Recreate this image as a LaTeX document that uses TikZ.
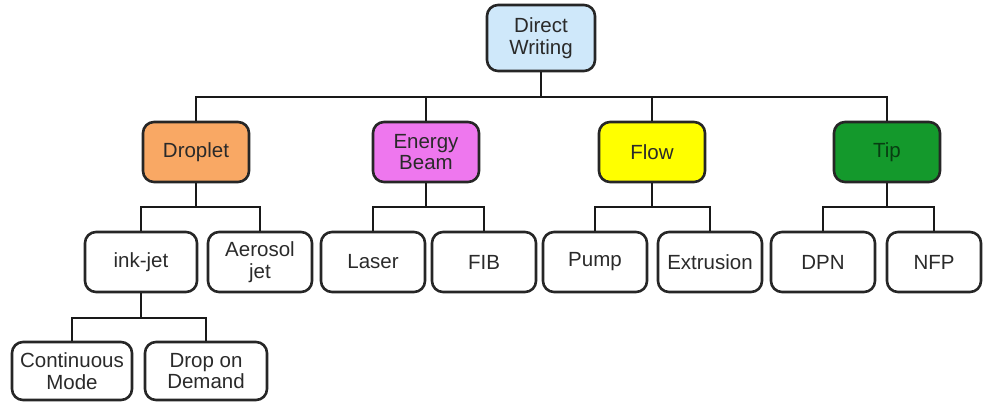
\documentclass[tikz,border=0pt]{standalone}
\usepackage{fontspec}
\setmainfont{Liberation Sans}
\definecolor{dwblue}{HTML}{CFE8FA}
\definecolor{droporange}{HTML}{F9A864}
\definecolor{beammag}{HTML}{EE77EE}
\definecolor{flowyel}{HTML}{FFFF00}
\definecolor{tipgreen}{HTML}{14992C}
\definecolor{txt}{HTML}{2A2A2A}
\begin{document}
\begin{tikzpicture}[x=1pt,y=-1pt,
  box/.style={draw=black!85, line width=2.6pt, rounded corners=11pt, align=center,
    text=txt, font=\fontsize{20.5}{21.5}\selectfont, inner sep=1pt},
  lvl/.style={box, minimum width=106pt, minimum height=60pt},
  leaf/.style={box, minimum width=104pt, minimum height=60pt},
  conn/.style={draw=black!90, line width=2.6pt}
]
\useasboundingbox (0,0) rectangle (984,404);
\node[box, fill=dwblue, minimum width=108pt, minimum height=66pt] (dw) at (541,38) {Direct\\Writing};
\node[lvl, fill=droporange] (drop) at (196,152) {Droplet};
\node[lvl, fill=beammag] (beam) at (426,152) {Energy\\Beam};
\node[lvl, fill=flowyel] (flow) at (652,152) {Flow};
\node[lvl, fill=tipgreen, text=black!60!tipgreen] (tip) at (887,152) {Tip};

\node[leaf, minimum width=112pt] (ink) at (141,262) {ink-jet};
\node[leaf] (aer) at (260,262) {Aerosol\\jet};
\node[leaf] (laser) at (373,262) {Laser};
\node[leaf] (fib) at (484,262) {FIB};
\node[leaf] (pump) at (595,262) {Pump};
\node[leaf] (ext) at (710,262) {Extrusion};
\node[leaf] (dpn) at (823,262) {DPN};
\node[leaf, minimum width=94pt] (nfp) at (934,262) {NFP};

\node[leaf, minimum width=120pt, minimum height=58pt] (cont) at (72,371) {Continuous\\Mode};
\node[leaf, minimum width=122pt, minimum height=58pt] (dod) at (206,371) {Drop on\\Demand};

\coordinate (b1) at (0,97);
\coordinate (b2) at (0,207);
\coordinate (b3) at (0,318);

\draw[conn] (dw.south) -- (dw.south |- b1);
\draw[conn] (drop.north) |- (b1 -| tip.north) -- (tip.north);
\draw[conn] (beam.north) -- (beam.north |- b1);
\draw[conn] (flow.north) -- (flow.north |- b1);

\draw[conn] (drop.south) -- (drop.south |- b2);
\draw[conn] (ink.north) |- (b2 -| aer.north) -- (aer.north);
\draw[conn] (beam.south) -- (beam.south |- b2);
\draw[conn] (laser.north) |- (b2 -| fib.north) -- (fib.north);
\draw[conn] (flow.south) -- (flow.south |- b2);
\draw[conn] (pump.north) |- (b2 -| ext.north) -- (ext.north);
\draw[conn] (tip.south) -- (tip.south |- b2);
\draw[conn] (dpn.north) |- (b2 -| nfp.north) -- (nfp.north);

\draw[conn] (ink.south) -- (ink.south |- b3);
\draw[conn] (cont.north) |- (b3 -| dod.north) -- (dod.north);
\end{tikzpicture}
\end{document}
